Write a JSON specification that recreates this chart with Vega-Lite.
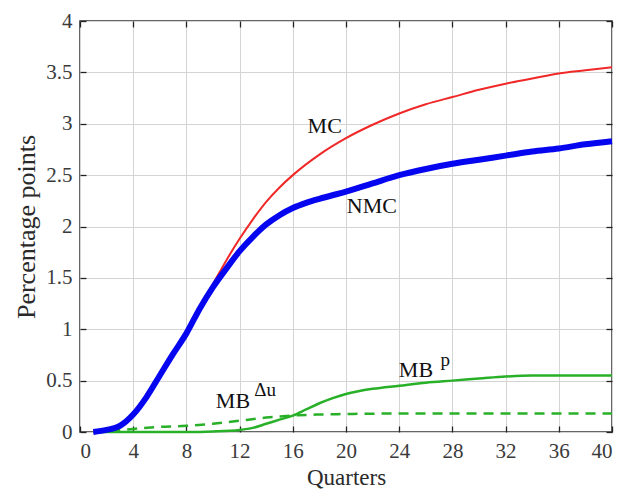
{
  "$schema": "https://vega.github.io/schema/vega-lite/v6.json",
  "autosize": "none",
  "width": 532,
  "height": 411,
  "padding": {"left": 80, "top": 21, "right": 11, "bottom": 63},
  "background": "white",
  "config": {
    "view": {"stroke": "#333333", "strokeWidth": 1.5},
    "font": "Liberation Serif",
    "axis": {
      "labelFont": "Liberation Serif",
      "titleFont": "Liberation Serif",
      "labelFontSize": 21,
      "titleFontWeight": "normal",
      "labelColor": "#3a3a3a",
      "titleColor": "#2a2a2a",
      "gridColor": "#d4d4d4",
      "gridWidth": 1,
      "domainColor": "#333333",
      "tickColor": "#222222",
      "tickSize": -6,
      "tickWidth": 1.3
    }
  },
  "datasets": {
    "series": [
      {"q": 1, "v": 0, "s": "MC"}, {"q": 2, "v": 0.02, "s": "MC"}, {"q": 3, "v": 0.06, "s": "MC"}, {"q": 4, "v": 0.17, "s": "MC"},
      {"q": 5, "v": 0.34, "s": "MC"}, {"q": 6, "v": 0.55, "s": "MC"}, {"q": 7, "v": 0.76, "s": "MC"}, {"q": 8, "v": 0.96, "s": "MC"},
      {"q": 9, "v": 1.21, "s": "MC"}, {"q": 10, "v": 1.44, "s": "MC"}, {"q": 11, "v": 1.67, "s": "MC"}, {"q": 12, "v": 1.88, "s": "MC"},
      {"q": 13, "v": 2.07, "s": "MC"}, {"q": 14, "v": 2.24, "s": "MC"}, {"q": 15, "v": 2.38, "s": "MC"}, {"q": 16, "v": 2.5, "s": "MC"},
      {"q": 18, "v": 2.7, "s": "MC"}, {"q": 20, "v": 2.86, "s": "MC"}, {"q": 22, "v": 2.99, "s": "MC"}, {"q": 24, "v": 3.1, "s": "MC"},
      {"q": 26, "v": 3.19, "s": "MC"}, {"q": 28, "v": 3.26, "s": "MC"}, {"q": 30, "v": 3.33, "s": "MC"}, {"q": 32, "v": 3.39, "s": "MC"},
      {"q": 34, "v": 3.44, "s": "MC"}, {"q": 36, "v": 3.49, "s": "MC"}, {"q": 38, "v": 3.52, "s": "MC"}, {"q": 40, "v": 3.55, "s": "MC"},
      {"q": 1, "v": 0, "s": "NMC"}, {"q": 2, "v": 0.02, "s": "NMC"}, {"q": 3, "v": 0.06, "s": "NMC"}, {"q": 4, "v": 0.17, "s": "NMC"},
      {"q": 5, "v": 0.34, "s": "NMC"}, {"q": 6, "v": 0.55, "s": "NMC"}, {"q": 7, "v": 0.76, "s": "NMC"}, {"q": 8, "v": 0.96, "s": "NMC"},
      {"q": 9, "v": 1.2, "s": "NMC"}, {"q": 10, "v": 1.41, "s": "NMC"}, {"q": 11, "v": 1.59, "s": "NMC"}, {"q": 12, "v": 1.76, "s": "NMC"},
      {"q": 13, "v": 1.9, "s": "NMC"}, {"q": 14, "v": 2.02, "s": "NMC"}, {"q": 15, "v": 2.11, "s": "NMC"}, {"q": 16, "v": 2.18, "s": "NMC"},
      {"q": 17, "v": 2.23, "s": "NMC"}, {"q": 18, "v": 2.27, "s": "NMC"}, {"q": 20, "v": 2.34, "s": "NMC"}, {"q": 22, "v": 2.42, "s": "NMC"},
      {"q": 24, "v": 2.5, "s": "NMC"}, {"q": 26, "v": 2.56, "s": "NMC"}, {"q": 28, "v": 2.61, "s": "NMC"}, {"q": 30, "v": 2.65, "s": "NMC"},
      {"q": 32, "v": 2.69, "s": "NMC"}, {"q": 34, "v": 2.73, "s": "NMC"}, {"q": 36, "v": 2.76, "s": "NMC"}, {"q": 38, "v": 2.8, "s": "NMC"},
      {"q": 40, "v": 2.83, "s": "NMC"},
      {"q": 1, "v": 0, "s": "MBp"}, {"q": 4, "v": 0, "s": "MBp"}, {"q": 8, "v": 0, "s": "MBp"}, {"q": 10, "v": 0.005, "s": "MBp"},
      {"q": 12, "v": 0.02, "s": "MBp"}, {"q": 13, "v": 0.04, "s": "MBp"}, {"q": 14, "v": 0.08, "s": "MBp"}, {"q": 15, "v": 0.12, "s": "MBp"},
      {"q": 16, "v": 0.16, "s": "MBp"}, {"q": 17, "v": 0.22, "s": "MBp"}, {"q": 18, "v": 0.28, "s": "MBp"}, {"q": 19, "v": 0.33, "s": "MBp"},
      {"q": 20, "v": 0.37, "s": "MBp"}, {"q": 22, "v": 0.42, "s": "MBp"}, {"q": 24, "v": 0.45, "s": "MBp"}, {"q": 26, "v": 0.48, "s": "MBp"},
      {"q": 28, "v": 0.5, "s": "MBp"}, {"q": 30, "v": 0.52, "s": "MBp"}, {"q": 32, "v": 0.54, "s": "MBp"}, {"q": 34, "v": 0.55, "s": "MBp"},
      {"q": 36, "v": 0.55, "s": "MBp"}, {"q": 38, "v": 0.55, "s": "MBp"}, {"q": 40, "v": 0.55, "s": "MBp"},
      {"q": 1, "v": 0, "s": "MBdu"}, {"q": 2, "v": 0.01, "s": "MBdu"}, {"q": 4, "v": 0.03, "s": "MBdu"}, {"q": 6, "v": 0.05, "s": "MBdu"},
      {"q": 8, "v": 0.06, "s": "MBdu"}, {"q": 10, "v": 0.08, "s": "MBdu"}, {"q": 12, "v": 0.11, "s": "MBdu"}, {"q": 14, "v": 0.14, "s": "MBdu"},
      {"q": 16, "v": 0.16, "s": "MBdu"}, {"q": 18, "v": 0.17, "s": "MBdu"}, {"q": 20, "v": 0.175, "s": "MBdu"}, {"q": 24, "v": 0.18, "s": "MBdu"},
      {"q": 28, "v": 0.18, "s": "MBdu"}, {"q": 32, "v": 0.18, "s": "MBdu"}, {"q": 36, "v": 0.18, "s": "MBdu"}, {"q": 40, "v": 0.18, "s": "MBdu"}
    ],
    "one": [{}]
  },
  "layer": [
    {
      "data": {"name": "series"},
      "transform": [{"filter": "datum.s === 'MBdu'"}],
      "mark": {"type": "line", "color": "#28b028", "strokeWidth": 2.5, "strokeDash": [10, 7], "interpolate": "monotone"},
      "encoding": {
        "x": {"field": "q", "type": "quantitative", "scale": {"domain": [0, 40], "nice": false}, "axis": {"orient": "bottom", "values": [0,4,8,12,16,20,24,28,32,36,40], "title": "Quarters", "titleFontSize": 23, "titlePadding": 5, "labelPadding": 14, "domain": false}},
        "y": {"field": "v", "type": "quantitative", "scale": {"domain": [0, 4], "nice": false}, "axis": {"orient": "left", "values": [0,0.5,1,1.5,2,2.5,3,3.5,4], "format": "~g", "title": "Percentage points", "titleFontSize": 26, "titlePadding": 6, "labelPadding": 14, "domain": false}}
      }
    },
    {
      "data": {"name": "series"},
      "transform": [{"filter": "datum.s === 'MBp'"}],
      "mark": {"type": "line", "color": "#28b028", "strokeWidth": 2.5, "interpolate": "monotone"},
      "encoding": {
        "x": {"field": "q", "type": "quantitative", "axis": {"orient": "top", "values": [0,4,8,12,16,20,24,28,32,36,40], "labels": false, "title": null, "grid": false, "domain": false}},
        "y": {"field": "v", "type": "quantitative", "axis": {"orient": "right", "values": [0,0.5,1,1.5,2,2.5,3,3.5,4], "labels": false, "title": null, "grid": false, "domain": false}}
      }
    },
    {
      "data": {"name": "series"},
      "transform": [{"filter": "datum.s === 'MC'"}],
      "mark": {"type": "line", "color": "#f02828", "strokeWidth": 2, "interpolate": "monotone"},
      "encoding": {
        "x": {"field": "q", "type": "quantitative", "axis": null},
        "y": {"field": "v", "type": "quantitative", "axis": null}
      }
    },
    {
      "data": {"name": "series"},
      "transform": [{"filter": "datum.s === 'NMC'"}],
      "mark": {"type": "line", "color": "#0505f0", "strokeWidth": 6, "interpolate": "monotone"},
      "encoding": {
        "x": {"field": "q", "type": "quantitative", "axis": null},
        "y": {"field": "v", "type": "quantitative", "axis": null}
      }
    },
    {
      "data": {"name": "one"},
      "mark": {"type": "text", "text": "MC", "fontSize": 22, "font": "Liberation Serif", "color": "#111111"},
      "encoding": {"x": {"datum": 18.4, "type": "quantitative", "axis": null}, "y": {"datum": 2.98, "type": "quantitative", "axis": null}}
    },
    {
      "data": {"name": "one"},
      "mark": {"type": "text", "text": "NMC", "fontSize": 22, "font": "Liberation Serif", "color": "#111111"},
      "encoding": {"x": {"datum": 21.95, "type": "quantitative", "axis": null}, "y": {"datum": 2.2, "type": "quantitative", "axis": null}}
    },
    {
      "data": {"name": "one"},
      "mark": {"type": "text", "text": "MB", "fontSize": 22, "font": "Liberation Serif", "color": "#111111"},
      "encoding": {"x": {"datum": 11.5, "type": "quantitative", "axis": null}, "y": {"datum": 0.3, "type": "quantitative", "axis": null}}
    },
    {
      "data": {"name": "one"},
      "mark": {"type": "text", "text": "Δu", "fontSize": 19, "align": "left", "font": "Liberation Serif", "color": "#111111"},
      "encoding": {"x": {"datum": 13.1, "type": "quantitative", "axis": null}, "y": {"datum": 0.41, "type": "quantitative", "axis": null}}
    },
    {
      "data": {"name": "one"},
      "mark": {"type": "text", "text": "MB", "fontSize": 22, "font": "Liberation Serif", "color": "#111111"},
      "encoding": {"x": {"datum": 25.26, "type": "quantitative", "axis": null}, "y": {"datum": 0.6, "type": "quantitative", "axis": null}}
    },
    {
      "data": {"name": "one"},
      "mark": {"type": "text", "text": "p", "fontSize": 19, "align": "left", "font": "Liberation Serif", "color": "#111111"},
      "encoding": {"x": {"datum": 27.1, "type": "quantitative", "axis": null}, "y": {"datum": 0.7, "type": "quantitative", "axis": null}}
    }
  ],
  "resolve": {"axis": {"x": "independent", "y": "independent"}}
}
